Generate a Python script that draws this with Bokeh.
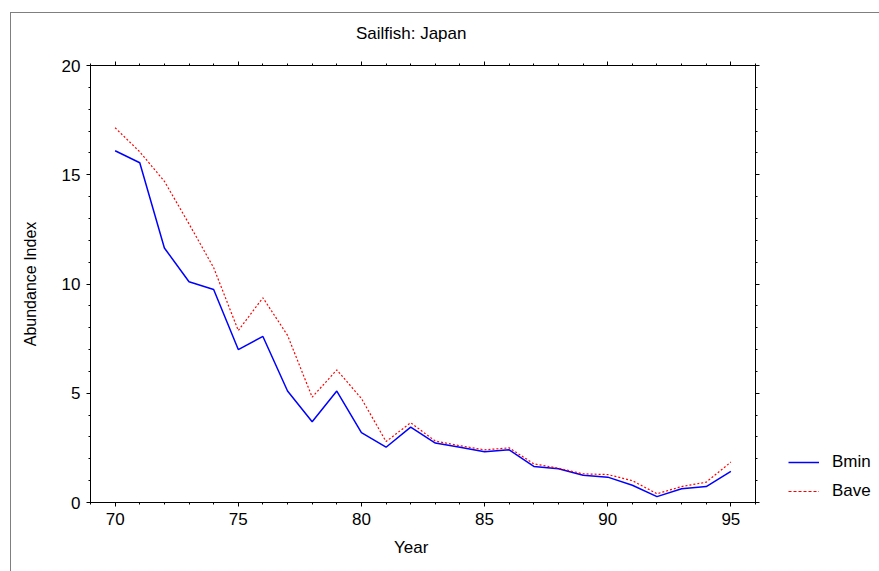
from bokeh.plotting import figure
from bokeh.models import (Range1d, LinearAxis, Legend, LegendItem,
                          SingleIntervalTicker)
from bokeh.layouts import row
from bokeh.embed import file_html
from bokeh.resources import INLINE

years = list(range(70, 96))
bmin = [16.1, 15.55, 11.65, 10.1, 9.75, 7.0, 7.6, 5.1, 3.7, 5.1, 3.2, 2.53,
        3.45, 2.72, 2.53, 2.32, 2.41, 1.65, 1.54, 1.25, 1.16, 0.79, 0.27,
        0.63, 0.73, 1.42]
bave = [17.15, 16.05, 14.7, 12.75, 10.75, 7.87, 9.37, 7.65, 4.82, 6.07, 4.76,
        2.79, 3.65, 2.81, 2.6, 2.41, 2.5, 1.77, 1.57, 1.31, 1.28, 1.0, 0.4,
        0.73, 0.93, 1.85]
title_text = "Sailfish: Japan"
xlabel = "Year"
ylabel = "Abundance Index"
series_names = ["Bmin", "Bave"]

FONT = "Liberation Sans"
BLUE = "#0000ff"
RED = "#ff0000"
PAD = "\u00a0" * 5  # shifts the centred axis labels a little to the left

p = figure(frame_width=665, frame_height=437, title=None,
           output_backend="svg", toolbar_location=None,
           x_range=Range1d(69, 96), y_range=Range1d(0, 20),
           x_axis_location=None, y_axis_location=None,
           min_border_left=79, min_border_right=10,
           min_border_top=52, min_border_bottom=69)
p.grid.visible = False
p.outline_line_color = "black"
p.outline_line_width = 1
p.background_fill_color = "white"
p.border_fill_color = "white"


def make_axis(show_labels):
    ax = LinearAxis(ticker=SingleIntervalTicker(interval=5, num_minor_ticks=5))
    ax.axis_line_color = "black"
    ax.major_tick_line_color = "black"
    ax.minor_tick_line_color = "black"
    ax.major_tick_in = 0
    ax.major_tick_out = 4
    ax.minor_tick_in = 0
    ax.minor_tick_out = 2
    ax.major_label_text_font = FONT
    ax.major_label_text_font_size = "17px"
    ax.major_label_text_color = "black"
    ax.major_label_standoff = 6
    ax.axis_label_text_font = FONT
    ax.axis_label_text_font_style = "normal"
    ax.axis_label_text_color = "black"
    if not show_labels:
        ax.major_label_text_alpha = 0
        ax.major_label_text_font_size = "1px"
        ax.major_label_standoff = 0
    return ax


xb = make_axis(True)
xb.axis_label = xlabel + PAD
xb.axis_label_text_font_size = "17px"
xb.axis_label_standoff = 10

xt = make_axis(False)
xt.axis_label = title_text + PAD
xt.axis_label_text_font_size = "17px"
xt.axis_label_standoff = 19

yl = make_axis(True)
yl.axis_label = ylabel
yl.axis_label_text_font_size = "16px"
yl.axis_label_standoff = 20

p.add_layout(xb, "below")
p.add_layout(xt, "above")
p.add_layout(yl, "left")
p.add_layout(make_axis(False), "right")

p.line(years, bmin, line_color=BLUE, line_width=1.5)
p.line(years, bave, line_color=RED, line_width=1.2, line_dash="2 2")

# legend panel to the right of the chart
pl = figure(width=114, height=558, output_backend="svg", toolbar_location=None,
            x_range=Range1d(0, 1), y_range=Range1d(0, 1),
            x_axis_location=None, y_axis_location=None,
            min_border=0)
pl.grid.visible = False
pl.outline_line_color = None
pl.border_fill_color = "white"
k1 = pl.line([5, 6], [5, 6], line_color=BLUE, line_width=1.5)
k2 = pl.line([5, 6], [5, 6], line_color=RED, line_width=1.2, line_dash="3 2")

legend = Legend(items=[LegendItem(label=series_names[0], renderers=[k1]),
                       LegendItem(label=series_names[1], renderers=[k2])],
                location=(23, 1), orientation="vertical",
                margin=0, padding=0, spacing=9,
                glyph_width=31, glyph_height=18, label_height=18,
                label_standoff=13, label_text_color="black",
                label_text_font=FONT, label_text_font_size="17px",
                border_line_alpha=0, background_fill_alpha=0)
pl.add_layout(legend, "center")

layout = row(p, pl, spacing=0, margin=(12, 0, 0, 10),
             styles={"border-left": "1px solid #7f7f7f",
                     "border-top": "1px solid #7f7f7f"})

open("out.html", "w").write(file_html(layout, INLINE))
